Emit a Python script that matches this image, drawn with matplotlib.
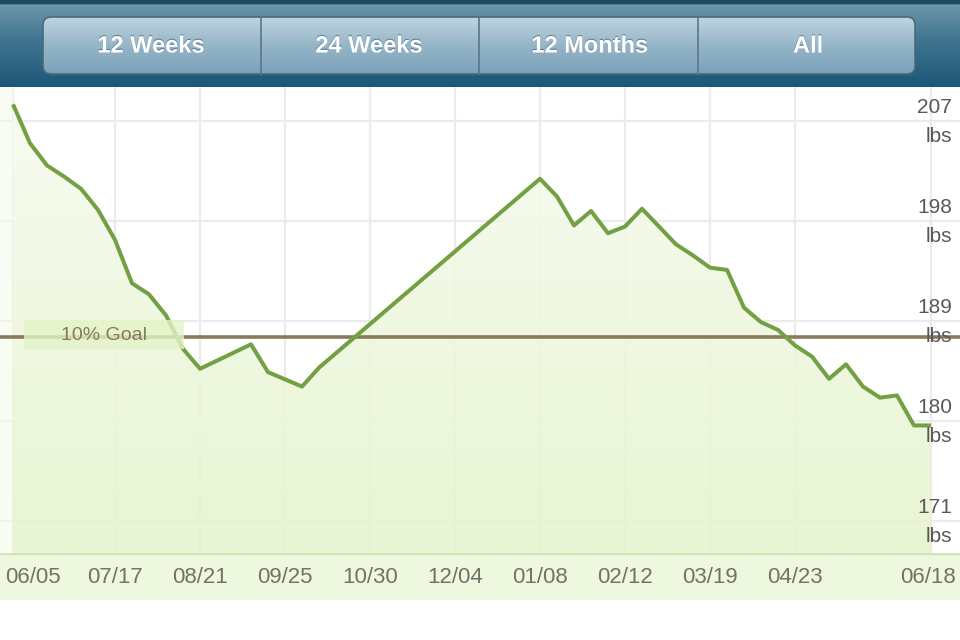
import matplotlib
matplotlib.use("Agg")
import matplotlib.pyplot as plt
import matplotlib.dates as mdates
import matplotlib.transforms as mtransforms
import matplotlib.patheffects as pe
from matplotlib.patches import FancyBboxPatch, Rectangle
from matplotlib.colors import LinearSegmentedColormap
import numpy as np
from datetime import datetime

plt.rcParams['font.family'] = ['Liberation Sans', 'DejaVu Sans']

# ---------------- data ----------------
dates = ["2010-06-05", "2010-06-12", "2010-06-19", "2010-06-26", "2010-07-03",
         "2010-07-10", "2010-07-17", "2010-07-24", "2010-07-31", "2010-08-07",
         "2010-08-14", "2010-08-21", "2010-09-11", "2010-09-18", "2010-10-02",
         "2010-10-09", "2011-01-08", "2011-01-15", "2011-01-22", "2011-01-29",
         "2011-02-05", "2011-02-12", "2011-02-19", "2011-03-05", "2011-03-12",
         "2011-03-19", "2011-03-26", "2011-04-02", "2011-04-09", "2011-04-16",
         "2011-04-23", "2011-04-30", "2011-05-07", "2011-05-14", "2011-05-21",
         "2011-05-28", "2011-06-04", "2011-06-11", "2011-06-18"]
weights = [208.5, 205.0, 203.0, 202.0, 200.9,
           199.0, 196.3, 192.4, 191.4, 189.5,
           186.5, 184.7, 186.9, 184.4, 183.1,
           184.8, 201.8, 200.2, 197.6, 198.9,
           196.9, 197.5, 199.1, 195.9, 194.9,
           193.8, 193.6, 190.2, 188.9, 188.2,
           186.8, 185.8, 183.8, 185.1, 183.1,
           182.1, 182.3, 179.6, 179.6]
goal_value = 187.6
goal_label = "10% Goal"
tick_dates = ["2010-06-05", "2010-07-17", "2010-08-21", "2010-09-25", "2010-10-30",
              "2010-12-04", "2011-01-08", "2011-02-12", "2011-03-19", "2011-04-23",
              "2011-06-18"]
tick_labels = ["06/05", "07/17", "08/21", "09/25", "10/30", "12/04",
               "01/08", "02/12", "03/19", "04/23", "06/18"]
y_ticks = [171, 180, 189, 198, 207]
y_unit = "lbs"
buttons = ["12 Weeks", "24 Weeks", "12 Months", "All"]

# ---------------- figure ----------------
W, H = 960, 640
fig = plt.figure(figsize=(W / 100, H / 100), dpi=100)
fig.patch.set_facecolor("white")

def px_rect(x0, y0, x1, y1):
    # pixel rect (top-left origin) -> figure fraction [l, b, w, h]
    return [x0 / W, 1 - y1 / H, (x1 - x0) / W, (y1 - y0) / H]

# ---- header ----
hax = fig.add_axes(px_rect(0, 0, 960, 87))
hax.set_xlim(0, 960)
hax.set_ylim(87, 0)
hax.axis("off")
hcmap = LinearSegmentedColormap.from_list(
    "hdr", [(0, "#1b4b63"), (0.04, "#1b4b63"), (0.05, "#6f96aa"),
            (0.45, "#3f7590"), (1, "#1d5777")])
hgrad = np.linspace(0, 1, 200).reshape(-1, 1)
hax.imshow(hgrad, cmap=hcmap, extent=[0, 960, 87, 0], aspect="auto", zorder=0)

btn = FancyBboxPatch((43, 17), 872, 57, boxstyle="round,pad=0,rounding_size=8",
                     facecolor="none", edgecolor="#496a7c", linewidth=1.2, zorder=3)
hax.add_patch(btn)
bcmap = LinearSegmentedColormap.from_list("btn", ["#c0d4df", "#95b5c8", "#7ba2b8"])
bimg = hax.imshow(np.linspace(0, 1, 100).reshape(-1, 1), cmap=bcmap,
                  extent=[43, 915, 74, 17], aspect="auto", zorder=2)
bimg.set_clip_path(btn)
hax.set_xlim(0, 960)
hax.set_ylim(87, 0)
for xd in [261, 479, 698]:
    hax.plot([xd, xd], [17, 74], color="#56788a", lw=1.2, zorder=3)
for cx, lbl in zip([151, 369, 590, 808], buttons):
    hax.text(cx, 46, lbl, ha="center", va="center", color="white",
             fontsize=17, fontweight="bold", zorder=4,
             path_effects=[pe.withSimplePatchShadow(offset=(0, 0.8),
                                                    shadow_rgbFace="#35586a",
                                                    alpha=0.6)])

# ---- x label band ----
bax = fig.add_axes(px_rect(0, 553, 960, 600))
bax.set_facecolor("#eef8de")
bax.set_xticks([]); bax.set_yticks([])
for s in bax.spines.values():
    s.set_visible(False)
bax.axhline(1, color="#d3e4b6", lw=2.5)

# ---- main plot ----
ax = fig.add_axes(px_rect(0, 87, 960, 553))
ax.set_facecolor("white")
for s in ax.spines.values():
    s.set_visible(False)

x = mdates.date2num([datetime.strptime(d, "%Y-%m-%d") for d in dates])
y = np.array(weights)
xt = mdates.date2num([datetime.strptime(d, "%Y-%m-%d") for d in tick_dates])

px_per_day = 85 / 35.0
x_left = xt[0] - 13 / px_per_day
x_right = xt[0] + (960 - 13) / px_per_day
y_bottom = 207 - (553 - 121) / (100 / 9.0)
y_top = 207 + (121 - 87) / (100 / 9.0)

# grid
for t in xt:
    ax.axvline(t, color="#ebebeb", lw=1.6, zorder=0.5)
for v in y_ticks:
    ax.axhline(v, color="#ebebeb", lw=1.6, zorder=0.5)

# faint tint left of the first reading
ax.axvspan(x_left, x[0], color="#f3fbe8", alpha=0.5, zorder=0.8, lw=0)

# gradient fill under curve
poly = ax.fill_between(x, y, y_bottom, facecolor="none", edgecolor="none")
fcmap = LinearSegmentedColormap.from_list("fill", ["#e5f4cd", "#f7fcef"])
fimg = ax.imshow(np.linspace(0, 1, 200).reshape(-1, 1), cmap=fcmap, origin="lower",
                 extent=[x[0], x[-1], y_bottom, y.max()], aspect="auto",
                 alpha=0.88, zorder=1)
fimg.set_clip_path(poly.get_paths()[0], transform=ax.transData)

# goal line
ax.axhline(goal_value, color="#8a7a5c", lw=2.6, zorder=2)
# weight line
ax.plot(x, y, color="#73a043", lw=2.9, zorder=3, solid_joinstyle="round",
        solid_capstyle="butt")

ax.set_xlim(x_left, x_right)
ax.set_ylim(y_bottom, y_top)
ax.set_xticks([]); ax.set_yticks([])

# goal label box (axes-fraction placement)
ax_h = 553 - 87
gb = Rectangle((24 / 960, (553 - 349) / ax_h), 160 / 960, 29 / ax_h,
               transform=ax.transAxes, facecolor="#e3f4c6", edgecolor="none",
               alpha=0.8, zorder=4)
ax.add_patch(gb)
ax.text(104 / 960, (553 - 335) / ax_h, goal_label, transform=ax.transAxes,
        ha="center", va="center", fontsize=14, color="#857b5c", zorder=5)

# y labels on right
blend_y = mtransforms.blended_transform_factory(ax.transAxes, ax.transData)
for v in y_ticks:
    t_num = mtransforms.offset_copy(blend_y, fig=fig, x=0, y=8 * 0.72, units="points")
    t_unit = mtransforms.offset_copy(blend_y, fig=fig, x=0, y=-21 * 0.72, units="points")
    ax.text(952 / 960, v, str(v), transform=t_num, ha="right", va="baseline",
            fontsize=15, color="#585858", zorder=6)
    ax.text(952 / 960, v, y_unit, transform=t_unit, ha="right", va="baseline",
            fontsize=15, color="#585858", zorder=6)

# x labels
blend_x = mtransforms.blended_transform_factory(ax.transData, ax.transAxes)
n = len(xt)
for i, (t, lbl) in enumerate(zip(xt, tick_labels)):
    if i == 0:
        ha, dx = "left", -8
    elif i == n - 1:
        ha, dx = "right", 25
    else:
        ha, dx = "center", 0
    tr = mtransforms.offset_copy(blend_x, fig=fig, x=dx * 0.72, y=-30 * 0.72,
                                 units="points")
    ax.text(t, 0, lbl, transform=tr, ha=ha, va="baseline", fontsize=16,
            color="#6f7468", zorder=6, clip_on=False)

fig.savefig("out.png", dpi=100, facecolor="white")
